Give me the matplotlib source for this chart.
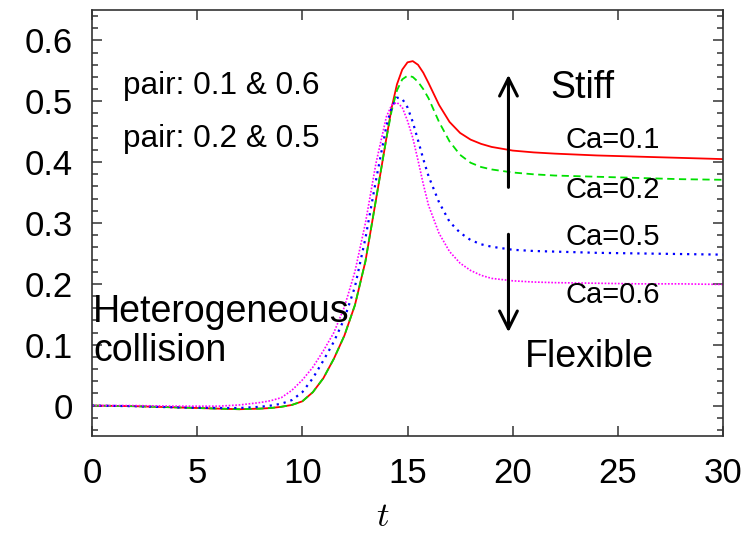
import matplotlib
matplotlib.use("Agg")
import matplotlib.pyplot as plt
from matplotlib.ticker import MultipleLocator, FormatStrFormatter

plt.rcParams['font.family'] = ['Liberation Sans', 'DejaVu Sans']
plt.rcParams['mathtext.fontset'] = 'cm'

# time axis (shared by all curves)
t = [0, 2, 4, 6, 7, 8, 8.5, 9, 9.5, 10, 10.5, 11, 11.5, 12, 12.5, 13, 13.5, 14, 14.25, 14.5,
     14.75, 15, 15.25, 15.5, 15.75, 16, 16.5, 17, 17.5, 18, 18.5, 19, 20, 21, 22, 24, 26, 28, 30]

ca01 = [0, -0.001, -0.003, -0.005, -0.006, -0.005, -0.004, -0.002, 0.001, 0.007, 0.022, 0.045,
        0.077, 0.115, 0.165, 0.237, 0.338, 0.44, 0.49, 0.528, 0.552, 0.564, 0.566, 0.56, 0.547,
        0.530, 0.494, 0.466, 0.448, 0.437, 0.43, 0.425, 0.419, 0.416, 0.414, 0.411, 0.409,
        0.407, 0.405]
ca02 = [0, -0.001, -0.003, -0.005, -0.006, -0.005, -0.004, -0.002, 0.001, 0.007, 0.022, 0.045,
        0.077, 0.115, 0.165, 0.237, 0.338, 0.44, 0.485, 0.518, 0.536, 0.542, 0.54, 0.532, 0.52,
        0.505, 0.466, 0.434, 0.412, 0.399, 0.392, 0.388, 0.383, 0.38, 0.378, 0.376, 0.374,
        0.372, 0.371]
ca05 = [0, -0.001, -0.003, -0.004, -0.004, -0.002, 0.0, 0.003, 0.009, 0.022, 0.045, 0.074,
        0.105, 0.143, 0.195, 0.275, 0.37, 0.46, 0.49, 0.506, 0.504, 0.49, 0.466, 0.436, 0.405,
        0.377, 0.334, 0.302, 0.284, 0.272, 0.265, 0.261, 0.256, 0.254, 0.253, 0.251, 0.25,
        0.249, 0.248]
ca06 = [0, 0, -0.001, -0.001, 0.001, 0.005, 0.008, 0.013, 0.025, 0.042, 0.063, 0.09,
        0.12, 0.162, 0.22, 0.3, 0.398, 0.475, 0.494, 0.498, 0.49, 0.468, 0.44, 0.403, 0.364,
        0.329, 0.283, 0.253, 0.234, 0.222, 0.214, 0.209, 0.205, 0.203, 0.202, 0.201, 0.2,
        0.2, 0.199]

fig = plt.figure(figsize=(7.48, 5.34), dpi=100)
ax = fig.add_axes([92/748, 1-436/534, (723-92)/748, (436-10)/534])

ax.plot(t, ca01, color='#ff0000', lw=1.3, ls='-')
ax.plot(t, ca02, color='#00e000', lw=1.3, ls=(0, (4, 2.5)))
ax.plot(t, ca05, color='#0000ff', lw=1.6, ls=(0, (1, 2.2)))
ax.plot(t, ca06, color='#ff00ff', lw=1.2, ls=(0, (1, 1)))

ax.set_xlim(0, 30)
ax.set_ylim(-0.05, 0.65)
ax.xaxis.set_major_locator(MultipleLocator(5))
ax.yaxis.set_minor_locator(MultipleLocator(0.02))
ax.yaxis.set_major_formatter(FormatStrFormatter('%g'))
ax.set_yticks([0, 0.1, 0.2, 0.3, 0.4, 0.5, 0.6])
ax.tick_params(which='both', direction='in', top=True, right=True, color='#333333',
               labelsize=25, width=1.1)
ax.tick_params(which='major', length=7)
ax.tick_params(which='minor', length=4)
ax.tick_params(axis='x', pad=15)
ax.tick_params(axis='y', pad=14)
for s in ax.spines.values():
    s.set_color('#333333')
    s.set_linewidth(1.2)

# arrows
ax.annotate('', xy=(19.8, 0.548), xytext=(19.8, 0.354),
            arrowprops=dict(arrowstyle='->', lw=2.2, mutation_scale=32, color='black'))
ax.annotate('', xy=(19.8, 0.116), xytext=(19.8, 0.286),
            arrowprops=dict(arrowstyle='->', lw=2.2, mutation_scale=32, color='black'))

ax.text(1.47, 0.512, 'pair: 0.1 & 0.6', fontsize=22.7, va='baseline')
ax.text(1.47, 0.4255, 'pair: 0.2 & 0.5', fontsize=22.7, va='baseline')
ax.text(21.78, 0.506, 'Stiff', fontsize=27, va='baseline')
ax.text(20.59, 0.064, 'Flexible', fontsize=27, va='baseline')
ax.text(0.05, 0.138, 'Heterogeneous', fontsize=27, va='baseline')
ax.text(0.05, 0.0725, 'collision', fontsize=27, va='baseline')
ax.text(22.49, 0.424, 'Ca=0.1', fontsize=21, va='baseline')
ax.text(22.49, 0.3404, 'Ca=0.2', fontsize=21, va='baseline')
ax.text(22.49, 0.2635, 'Ca=0.5', fontsize=21, va='baseline')
ax.text(22.49, 0.1686, 'Ca=0.6', fontsize=21, va='baseline')

fig.text(383/748, 1-516/534, '$t$', fontsize=25, ha='center', va='center')

fig.savefig('out.png', dpi=100)
